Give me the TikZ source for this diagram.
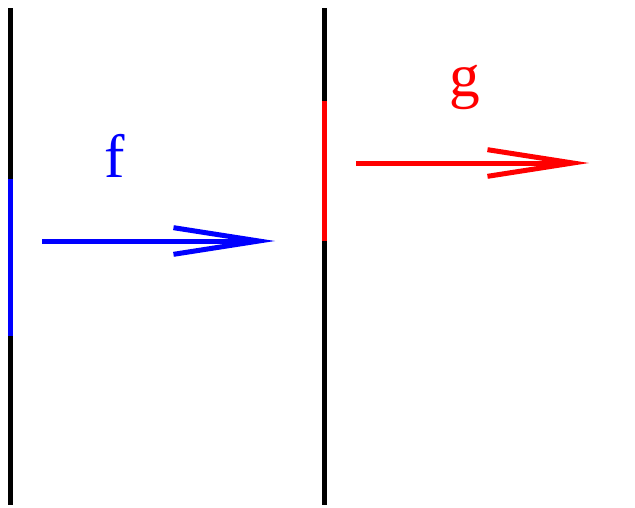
\documentclass[tikz,border=0pt]{standalone}
\usepackage{fontspec}
\setmainfont{Liberation Serif}
\usetikzlibrary{arrows.meta}

\tikzset{
    wall/.style={line width=3.75pt, black},
    mapto/.style={line width=3.75pt, -{Straight Barb[length=64pt, width=20pt, line width=3.75pt]}},
    maplabel/.style={font=\fontsize{46}{46}\selectfont, inner sep=0pt}
}

\begin{document}
\begin{tikzpicture}[x=0.75pt, y=-0.75pt]
    \useasboundingbox (0,0) rectangle (635,507);
    % the two walls
    \coordinate (l top) at (10.5,8);
    \coordinate (l bot) at (10.5,505);
    \coordinate (r top) at (324,8);
    \coordinate (r bot) at (324,505);
    \draw[wall] (l top) -- (l bot);
    \draw[wall] (r top) -- (r bot);
    % marked pieces
    \coordinate (f from) at (10.5,179);
    \coordinate (f to) at (10.5,336);
    \coordinate (g from) at (324,101);
    \coordinate (g to) at (324,241);
    \draw[line width=3.75pt, blue] (f from) -- (f to);
    \draw[line width=3.75pt, red] (g from) -- (g to);
    % maps
    \coordinate (f start) at (42,241);
    \coordinate (f end) at (275,241);
    \coordinate (g start) at (356,163);
    \coordinate (g end) at (589,163);
    \draw[mapto, blue] (f start) -- (f end);
    \draw[mapto, red] (g start) -- (g end);
    \node[maplabel, blue] (f) at (115,156) {f};
    \node[maplabel, red] (g) at (465,87) {g};
\end{tikzpicture}
\end{document}
